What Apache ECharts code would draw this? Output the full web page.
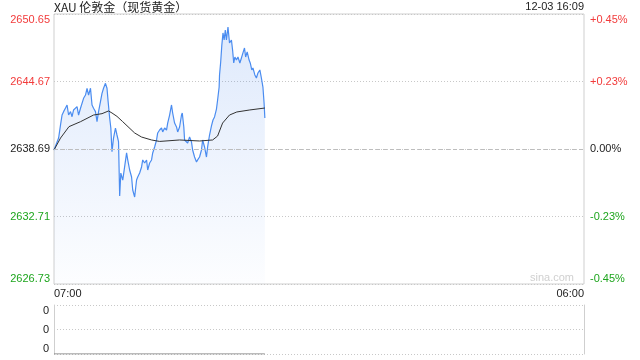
<!DOCTYPE html>
<html>
<head>
<meta charset="utf-8">
<script src="https://cdn.jsdelivr.net/npm/echarts@6/dist/echarts.min.js"></script>
<style>
html,body{margin:0;padding:0;background:#fff;}
#c{width:640px;height:360px;}
</style>
</head>
<body>
<div id="c"></div>
<script>
// ---- data ----
const titleText = "XAU 伦敦金（现货黄金）";
const stampText = "12-03 16:09";
const preClose = 2638.69;
const sessionStart = "07:00";
const sessionEnd = "06:00";
const sessionMinutes = 1380;
// minutes since 07:00
const priceMinutes = [0,12,17,21,25,30,34,38,43,47,51,56,60,64,69,73,77,82,86,90,95,99,103,108,112,116,121,125,129,134,138,141,145,148,151,155,160,164,168,171,174,179,189,192,197,202,205,210,215,218,223,228,231,236,241,244,249,254,257,262,267,270,275,280,283,288,293,296,301,306,309,314,319,322,327,332,334,338,340,345,348,353,358,361,366,371,374,379,384,387,392,397,400,405,410,414,418,423,426,430,431,434,437,440,443,446,449,453,457,462,465,468,471,475,479,484,488,492,496,499,503,508,511,515,518,523,527,531,536,540,544,547,549];
const prices = [2638.60,2639.66,2640.82,2641.70,2642.00,2642.32,2642.59,2641.70,2642.00,2641.55,2642.15,2642.00,2642.44,2641.70,2642.30,2642.44,2643.18,2643.47,2644.07,2643.47,2644.07,2642.59,2642.30,2642.00,2641.11,2642.00,2642.88,2643.62,2644.07,2644.51,2644.07,2642.88,2641.41,2640.55,2638.45,2639.66,2640.55,2639.93,2639.34,2634.53,2636.56,2635.94,2638.34,2637.72,2636.83,2636.21,2635.06,2634.44,2635.94,2636.21,2636.56,2637.10,2637.72,2637.45,2637.72,2636.83,2637.45,2637.72,2638.34,2638.87,2639.49,2640.11,2640.37,2640.55,2640.20,2640.55,2640.37,2640.99,2641.70,2642.59,2641.88,2640.99,2640.64,2640.20,2640.64,2641.70,2641.88,2640.64,2639.49,2639.66,2639.22,2639.75,2639.31,2638.60,2637.98,2637.54,2637.72,2637.98,2638.60,2639.49,2638.87,2637.98,2638.87,2639.93,2640.73,2641.26,2641.53,2642.23,2643.03,2644.18,2645.25,2646.40,2647.90,2648.97,2648.35,2649.23,2648.35,2649.50,2648.08,2648.35,2647.46,2646.31,2646.84,2646.57,2646.84,2646.31,2646.75,2647.20,2647.64,2646.84,2647.29,2646.57,2646.31,2645.69,2645.87,2645.25,2644.98,2645.42,2645.69,2644.98,2644.18,2642.77,2641.44];
const avgMinutes = [0,17,39,69,103,125,142,151,164,178,210,228,254,275,327,379,413,426,439,457,476,510,549];
const avgPrices = [2638.60,2639.66,2640.67,2641.11,2641.70,2641.82,2642.06,2641.88,2641.58,2641.14,2640.11,2639.75,2639.49,2639.36,2639.49,2639.40,2639.49,2639.84,2640.99,2641.70,2641.97,2642.15,2642.32];
const volMinutes = [0,549];
const volumes = [0,0];
const priceStep = 5.98;   // axis tick step (price)

// ---- chart ----
const chart = echarts.init(document.getElementById('c'), null, {renderer:'canvas'});
const RED = '#f23b3b', GREEN = '#1da51d', BLACK = '#222';
const FONT = 'Arial, "Liberation Sans", sans-serif';

const pricePairs = priceMinutes.map((m,i)=>[m, prices[i]-preClose]);
const avgPairs = avgMinutes.map((m,i)=>[m, avgPrices[i]-preClose]);
const volPairs = volMinutes.map((m,i)=>[m, volumes[i]]);

function tone(v){ return v > 1e-6 ? 'r' : (v < -1e-6 ? 'g' : 'k'); }
const rich = {
  r:{color:RED,fontSize:11,fontFamily:FONT},
  g:{color:GREEN,fontSize:11,fontFamily:FONT},
  k:{color:BLACK,fontSize:11,fontFamily:FONT}
};

chart.setOption({
  animation:false,
  backgroundColor:'#fff',
  textStyle:{fontFamily:FONT},
  graphic:[
    {type:'text', left:54, top:1, style:{text:titleText, font:'12px "Noto Sans CJK SC", Arial, sans-serif', fill:'#222'}},
    {type:'text', right:56, top:1, style:{text:stampText, font:'11px '+FONT, fill:'#222', textAlign:'right'}},
    {type:'text', right:66, top:272, style:{text:'sina.com', font:'11px '+FONT, fill:'#d0d0d0'}}
  ],
  grid:[
    {left:54, right:56, top:14, height:270, show:true, borderColor:'#cfcfcf', borderWidth:1, backgroundColor:'transparent'},
    {left:54, right:56, top:305, height:49, show:false}
  ],
  xAxis:[
    {type:'value', gridIndex:0, min:0, max:sessionMinutes, interval:sessionMinutes,
     axisLine:{show:false}, axisTick:{show:false}, splitLine:{show:false},
     axisLabel:{show:true, margin:4, fontSize:11, color:BLACK, fontFamily:FONT,
       alignMinLabel:'left', alignMaxLabel:'right',
       formatter:v=> v===0 ? sessionStart : sessionEnd}},
    {type:'value', gridIndex:1, min:0, max:sessionMinutes,
     axisLine:{show:false}, axisTick:{show:false}, splitLine:{show:false}, axisLabel:{show:false}}
  ],
  yAxis:[
    {type:'value', gridIndex:0, position:'left', min:-2*priceStep, max:2*priceStep, interval:priceStep,
     axisLine:{show:false}, axisTick:{show:false},
     splitLine:{show:true, lineStyle:{color:'#c8c8c8', type:[1,2], width:1}},
     axisLabel:{margin:4, fontFamily:FONT, verticalAlignMaxLabel:'top', verticalAlignMinLabel:'bottom',
       formatter:v=> '{'+tone(v)+'|'+(preClose+v).toFixed(2)+'}', rich:rich}},
    {type:'value', gridIndex:0, position:'right', min:-2*priceStep, max:2*priceStep, interval:priceStep,
     axisLine:{show:false}, axisTick:{show:false}, splitLine:{show:false},
     axisLabel:{margin:6, fontFamily:FONT, verticalAlignMaxLabel:'top', verticalAlignMinLabel:'bottom',
       formatter:v=>{ const p=(v/preClose*100); const t=tone(v); const s=(t==='r'?'+':'')+p.toFixed(2)+'%'; return '{'+t+'|'+s+'}'; }, rich:rich}},
    {type:'value', gridIndex:1, position:'left', min:0, max:2, interval:1,
     axisLine:{show:true, lineStyle:{color:'#cfcfcf'}}, axisTick:{show:false},
     splitLine:{show:true, lineStyle:{color:'#c8c8c8', type:[1,2], width:1}},
     axisLabel:{margin:5, fontSize:11, color:BLACK, fontFamily:FONT, verticalAlignMaxLabel:'top', verticalAlignMinLabel:'bottom',
       formatter:()=> String(volumes[0])}},
    {type:'value', gridIndex:1, position:'right', min:0, max:2, interval:1,
     axisLine:{show:true, lineStyle:{color:'#cfcfcf'}}, axisTick:{show:false}, splitLine:{show:false}, axisLabel:{show:false}}
  ],
  series:[
    {type:'line', xAxisIndex:0, yAxisIndex:0, data:pricePairs, symbol:'none', silent:true,
     lineStyle:{color:'#4a8cf0', width:1.2},
     areaStyle:{origin:'start', color:new echarts.graphic.LinearGradient(0,0,0,1,[
       {offset:0, color:'rgba(60,125,235,0.24)'},
       {offset:1, color:'rgba(60,125,235,0.02)'}])},
     markLine:{silent:true, symbol:'none', label:{show:false},
       lineStyle:{color:'#bdbdbd', type:[4,3], width:1},
       data:[{yAxis:0}]}},
    {type:'line', xAxisIndex:0, yAxisIndex:0, data:avgPairs, symbol:'none', silent:true,
     lineStyle:{color:'#333', width:1}},
    {type:'line', xAxisIndex:1, yAxisIndex:2, data:volPairs, symbol:'none', silent:true,
     lineStyle:{color:'#777', width:1}}
  ]
});
</script>
</body>
</html>
